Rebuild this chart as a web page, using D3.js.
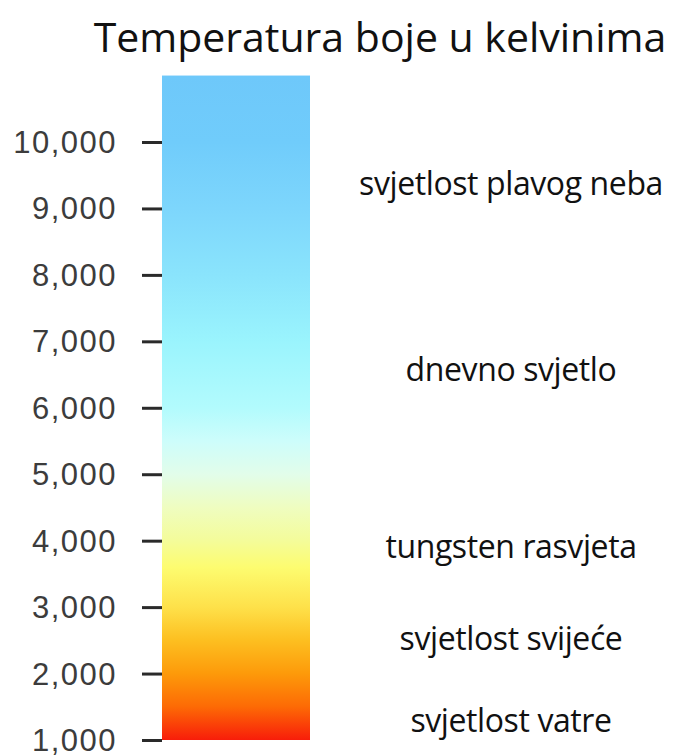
<!DOCTYPE html>
<html lang="hr">
<head>
<meta charset="UTF-8">
<title>Temperatura boje u kelvinima</title>
<script src="https://d3js.org/d3.v7.min.js"></script>
<style>
    body { margin: 0; background: #fff; }
    svg { display: block; }
    .title { font-family: "Open Sans", sans-serif; font-size: 41px; fill: #111; }
    .tick text { font-family: "Liberation Sans", Arial, sans-serif; font-size: 31px; fill: #3c3c3c; letter-spacing: 1.5px; }
    .tick line { stroke: #2a2a2a; stroke-width: 3; }
    .label { font-family: "Open Sans", sans-serif; font-size: 32px; fill: #111; letter-spacing: -0.4px; }
</style>
</head>
<body>
<svg id="chart" width="680" height="756"></svg>
<script>
    // axis ticks (kelvin)
    const tickValues = [1000, 2000, 3000, 4000, 5000, 6000, 7000, 8000, 9000, 10000];
    const barRange = [1000, 11000];

    // colour of the scale at given temperatures
    const stopTemps  = [1000, 1500, 2000, 2500, 3000, 3600, 4000, 4500, 5000, 5500, 6000, 7000, 8000, 9000, 10000, 11000];
    const stopColors = ["#f81d0a", "#fd6a05", "#fd9a0a", "#fdbf20", "#fee14a", "#fdfc70", "#f4fc9a", "#effdc0",
                        "#e2fdea", "#cdfdfb", "#b2fbfd", "#9af4fd", "#8ae4fc", "#7dd6fc", "#70ccfb", "#6ec8fa"];

    // light sources and where they sit on the scale
    const labelNames = ["svjetlost plavog neba", "dnevno svjetlo", "tungsten rasvjeta", "svjetlost svijeće", "svjetlost vatre"];
    const labelTemps = [9350, 6550, 3880, 2500, 1270];

    const svg = d3.select('#chart');

    const y = d3.scaleLinear()
        .domain([1000, 10000])
        .range([740, 142]);

    const barX = 162, barW = 148;

    // gradient, offsets from bar top (0) to bottom (1)
    const off = d3.scaleLinear().domain([barRange[1], barRange[0]]).range([0, 1]);
    const grad = svg.append('defs').append('linearGradient')
        .attr('id', 'kelvin')
        .attr('x1', 0).attr('y1', 0).attr('x2', 0).attr('y2', 1);
    grad.selectAll('stop')
        .data(stopTemps.map((t, i) => ({t: t, c: stopColors[i]})).sort((a, b) => b.t - a.t))
        .enter().append('stop')
        .attr('offset', d => off(d.t))
        .attr('stop-color', d => d.c);

    svg.append('rect')
        .attr('x', barX)
        .attr('y', y(barRange[1]))
        .attr('width', barW)
        .attr('height', y(barRange[0]) - y(barRange[1]))
        .attr('fill', 'url(#kelvin)');

    const axis = svg.append('g')
        .attr('transform', `translate(${barX},0)`)
        .call(d3.axisLeft(y)
            .tickValues(tickValues)
            .tickFormat(d3.format(','))
            .tickSize(20)
            .tickPadding(25));
    axis.select('.domain').remove();
    axis.selectAll('.tick text').attr('dy', '0.34em');

    svg.append('text')
        .attr('class', 'title')
        .attr('x', 380)
        .attr('y', 52)
        .attr('text-anchor', 'middle')
        .text('Temperatura boje u kelvinima');

    svg.selectAll('.label')
        .data(labelNames)
        .enter().append('text')
        .attr('class', 'label')
        .attr('x', 511)
        .attr('y', (d, i) => y(labelTemps[i]))
        .attr('dy', '0.3em')
        .attr('text-anchor', 'middle')
        .text(d => d);
</script>
</body>
</html>
